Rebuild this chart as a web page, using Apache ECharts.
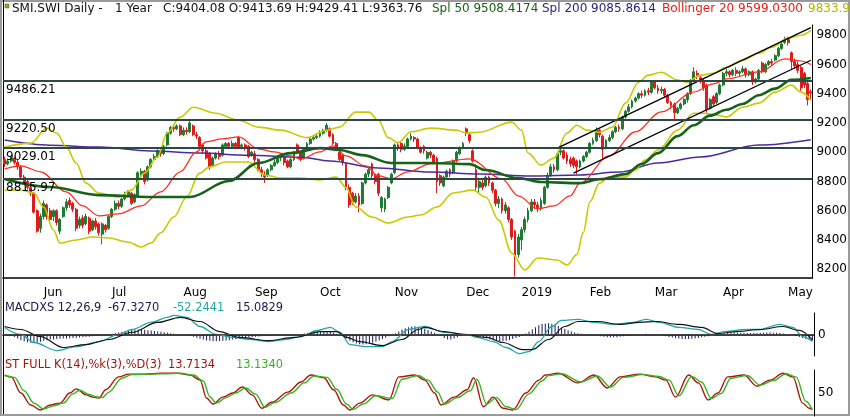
<!DOCTYPE html>
<html>
<head>
<meta charset="utf-8">
<script src="https://cdn.jsdelivr.net/npm/echarts@6/dist/echarts.min.js"></script>
<style>
html, body { margin: 0; padding: 0; background: #fff; }
#chart { width: 850px; height: 417px; }
</style>
</head>
<body>
<div id="chart"></div>
<script>
// exchange closed on these days
var holidays = ['2018-05-21', '2018-08-01', '2018-12-24', '2018-12-25', '2018-12-26', '2018-12-31',
  '2019-01-01', '2019-01-02', '2019-04-19', '2019-04-22', '2019-05-01'];
var monthNames = ['Jan', 'Feb', 'Mar', 'Apr', 'May', 'Jun', 'Jul', 'Aug', 'Sep', 'Oct', 'Nov', 'Dec'];
var levels = [9486.21, 9220.50, 9029.01, 8815.97];

// [open, close, low, high]
var candlesMay18 = [
  [8950,8920,8900,8970],[8920,8940,8910,8955],[8940,8960,8930,8975],[8960,8930,8915,8970],
  [8930,8900,8880,8950],[8900,8830,8820,8910],[8830,8800,8785,8845],[8800,8760,8745,8815],
  [8760,8720,8700,8775],[8720,8590,8580,8730],[8600,8460,8450,8610],[8480,8560,8450,8580]
];
var candlesJun18 = [
  [8560,8650,8540,8670],[8640,8560,8540,8650],[8600,8540,8520,8620],[8560,8600,8530,8610],
  [8600,8520,8500,8610],[8460,8540,8440,8550],[8560,8620,8550,8630],[8620,8660,8600,8680],
  [8670,8640,8620,8690],[8650,8610,8590,8660],[8610,8480,8460,8620],[8500,8540,8480,8560],
  [8550,8500,8480,8570],[8510,8560,8500,8580],[8550,8460,8440,8560],[8470,8530,8460,8540],
  [8530,8490,8470,8550],[8510,8450,8430,8520],[8440,8510,8370,8520],[8500,8470,8450,8510],
  [8480,8560,8470,8570]
];
var candlesJul18 = [
  [8560,8610,8550,8620],[8610,8650,8600,8670],[8650,8630,8610,8670],[8630,8680,8620,8690],
  [8680,8710,8670,8730],[8710,8730,8690,8740],[8720,8650,8640,8730],[8660,8710,8650,8720],
  [8700,8860,8690,8870],[8850,8870,8840,8890],[8870,8800,8780,8880],[8810,8900,8800,8910],
  [8900,8950,8890,8960],[8950,8970,8940,8990],[8970,9010,8960,9020],[9010,8990,8970,9030],
  [8990,9040,8980,9050],[9050,9130,9040,9140],[9130,9170,9120,9180],[9170,9160,9140,9190],
  [9160,9180,9150,9190],[9180,9120,9110,9190]
];
var candlesAug18 = [
  [9120,9150,9110,9170],[9150,9140,9120,9170],[9140,9200,9130,9220],[9180,9120,9110,9190],
  [9120,9110,9090,9140],[9100,9040,9030,9110],[9050,9010,8990,9060],[9010,8960,8950,9030],
  [8990,8900,8880,9000],[8910,8960,8900,8970],[8960,8990,8950,9000],[8990,8970,8950,9010],
  [8980,9050,8970,9060],[9040,9060,9030,9070],[9060,9040,9020,9070],[9040,9060,9030,9080],
  [9060,9040,9020,9070],[9100,9030,9020,9110],[9040,9050,9020,9060],[9050,9030,9010,9060],
  [9040,8970,8960,9050],[8980,9000,8970,9010]
];
var candlesSep18 = [
  [8990,8950,8930,9010],[8950,8880,8870,8960],[8880,8860,8830,8900],[8850,8830,8790,8870],
  [8840,8880,8830,8890],[8880,8910,8870,8920],[8910,8930,8900,8950],[8930,8960,8920,8970],
  [8960,8970,8940,8980],[8970,8930,8910,8980],[8940,8900,8890,8950],[8900,8950,8890,8960],
  [8950,9000,8940,9010],[9050,9000,8990,9060],[9000,8950,8940,9010],[8960,9020,8950,9030],
  [9020,9060,9010,9070],[9060,9090,9050,9100],[9090,9100,9080,9110],[9100,9110,9090,9130]
];
var candlesOct18 = [
  [9110,9130,9100,9150],[9130,9150,9120,9160],[9150,9185,9140,9200],[9160,9110,9100,9170],
  [9120,9060,9050,9130],[9060,9030,9010,9070],[9000,8950,8940,9010],[8980,8930,8910,8990],
  [8920,8760,8740,8930],[8760,8640,8620,8780],[8720,8660,8640,8730],[8660,8700,8650,8720],
  [8700,8640,8590,8720],[8650,8790,8640,8800],[8790,8850,8780,8860],[8850,8880,8830,8900],
  [8920,8840,8820,8930],[8840,8800,8780,8850],[8850,8720,8700,8860],[8620,8690,8590,8700],
  [8610,8680,8590,8690],[8690,8760,8680,8770],[8790,8850,8780,8860]
];
var candlesNov18 = [
  [8860,9050,8850,9060],[9050,9030,9010,9070],[9060,9020,9000,9070],[9020,9040,9010,9060],
  [9040,9090,9030,9100],[9090,9110,9080,9130],[9100,9090,9070,9110],[9090,9030,9020,9100],
  [9030,9000,8990,9040],[9040,9010,8990,9050],[8960,9000,8950,9010],[9000,8980,8960,9010],
  [8980,8930,8920,8990],[8960,8800,8720,8970],[8840,8790,8770,8850],[8770,8830,8760,8840],
  [8830,8870,8820,8880],[8880,8850,8830,8890],[8860,8940,8850,8950],[8940,9000,8930,9010],
  [8990,9030,8980,9040],[9030,9060,9020,9070]
];
var candlesDec18 = [
  [9160,9130,9110,9170],[9120,9080,9060,9130],[9010,8940,8930,9020],[8880,8760,8740,8900],
  [8760,8800,8720,8820],[8790,8760,8740,8810],[8770,8830,8760,8840],[8830,8790,8770,8840],
  [8790,8740,8720,8800],[8740,8650,8630,8750],[8650,8680,8620,8700],[8680,8600,8580,8690],
  [8600,8640,8580,8660],[8620,8540,8520,8630],[8540,8420,8400,8550],[8460,8290,8150,8470],
  [8300,8420,8280,8440]
];
var candlesJan19 = [
  [8400,8470,8330,8490],[8470,8540,8450,8560],[8540,8600,8520,8620],[8600,8660,8590,8680],
  [8660,8640,8610,8680],[8640,8620,8590,8660],[8620,8670,8600,8690],[8650,8760,8640,8770],
  [8760,8840,8750,8860],[8840,8900,8830,8920],[8900,8880,8860,8920],[8880,8990,8870,9000],
  [9000,9010,8980,9030],[9010,8960,8950,9020],[8980,8940,8920,9000],[8950,8920,8900,8970],
  [8960,8910,8890,8970],[8940,8900,8850,8950],[8900,8940,8890,8950],[8940,8970,8930,8980],
  [8970,9000,8960,9010]
];
var candlesFeb19 = [
  [9000,9060,8990,9070],[9060,9080,9050,9100],[9080,9150,9070,9170],[9150,9120,9100,9160],
  [9110,9020,8950,9120],[9030,9080,9020,9090],[9080,9100,9070,9120],[9100,9140,9090,9150],
  [9140,9170,9130,9180],[9170,9160,9140,9190],[9160,9240,9150,9250],[9240,9280,9230,9290],
  [9280,9310,9270,9330],[9310,9350,9300,9360],[9350,9370,9340,9380],[9370,9400,9360,9410],
  [9400,9390,9370,9420],[9390,9420,9380,9430],[9420,9410,9390,9440],[9410,9480,9400,9490]
];
var candlesMar19 = [
  [9480,9440,9430,9490],[9440,9420,9400,9460],[9420,9430,9400,9450],[9430,9390,9370,9440],
  [9390,9340,9330,9400],[9340,9320,9300,9350],[9330,9270,9225,9340],[9270,9300,9260,9310],
  [9300,9330,9290,9340],[9330,9360,9320,9370],[9360,9400,9340,9410],[9400,9490,9390,9500],
  [9490,9550,9480,9580],[9540,9520,9500,9560],[9510,9490,9470,9520],[9490,9440,9420,9500],
  [9460,9290,9270,9470],[9300,9360,9290,9370],[9380,9330,9310,9390],[9340,9400,9330,9410],
  [9400,9460,9390,9470]
];
var candlesApr19 = [
  [9460,9540,9450,9550],[9540,9550,9520,9570],[9550,9530,9510,9560],[9530,9560,9520,9570],
  [9560,9540,9520,9580],[9540,9550,9520,9560],[9550,9570,9540,9590],[9570,9530,9510,9580],
  [9530,9550,9520,9560],[9550,9480,9460,9560],[9480,9500,9470,9510],[9500,9560,9490,9570],
  [9610,9550,9540,9620],[9550,9600,9540,9610],[9600,9620,9590,9630],[9620,9610,9590,9640],
  [9630,9660,9620,9670],[9660,9710,9650,9720],[9710,9740,9700,9760],[9750,9770,9740,9790]
];
var candlesMay19 = [
  [9770,9750,9730,9790],[9680,9620,9560,9690],[9620,9590,9570,9640],[9600,9560,9540,9620],
  [9580,9440,9420,9590],[9540,9460,9440,9550],[9470,9360,9320,9480],[9413.69,9404.08,9363.76,9429.41]
];

// indicator lines: [day index, value]
var bbUpper = [[0,9035],[8,9062],[13,9165],[16,9131],[19,9035],[22,8926],[25,8789],[29,8721],[35,8694],[39,8741],
  [43,8857],[47,8967],[50,9131],[54,9240],[58,9308],[65,9267],[72,9219],[78,9172],[85,9151],[93,9100],[99,9150],
  [103,9172],[108,9274],[112,9274],[115,9219],[118,9100],[121,9065],[125,9140],[131,9165],[139,9151],[142,9131],
  [146,9137],[156,9206],[159,9151],[161,8994],[165,8912],[169,8960],[173,9131],[176,9185],[179,9151],[183,9137],
  [187,9172],[191,9336],[195,9479],[198,9527],[202,9547],[207,9493],[210,9479],[214,9527],[218,9540],[222,9581],
  [227,9629],[232,9677],[236,9718],[241,9780],[245,9800],[248,9834]];
var bbLower = [[0,8741],[5,8741],[9,8721],[12,8625],[15,8468],[17,8379],[22,8400],[27,8420],[32,8414],[38,8386],
  [42,8352],[45,8379],[48,8448],[52,8557],[56,8694],[60,8857],[63,8898],[68,8933],[75,8933],[80,8844],[85,8823],
  [91,8823],[97,8810],[102,8830],[105,8760],[108,8625],[113,8557],[118,8516],[124,8557],[128,8571],[133,8625],
  [138,8721],[144,8741],[148,8694],[152,8536],[156,8311],[160,8195],[164,8277],[170,8263],[173,8229],[176,8300],
  [178,8450],[180,8660],[183,8789],[186,8830],[191,8830],[194,8878],[197,8946],[201,9015],[207,9151],[212,9267],
  [215,9267],[219,9254],[222,9240],[227,9308],[232,9336],[237,9411],[242,9459],[245,9411],[248,9356]];
var bbMid = [[0,8886],[5,8907],[11,8866],[19,8729],[24,8633],[29,8565],[35,8579],[42,8633],[48,8729],[54,8866],
  [59,9002],[62,9071],[67,9091],[72,9105],[78,9023],[83,9002],[88,8975],[91,8954],[97,9002],[101,9043],[105,8975],
  [111,8907],[115,8838],[119,8818],[124,8866],[131,8920],[143,8954],[153,8818],[158,8702],[164,8613],[169,8633],
  [174,8702],[177,8790],[186,8975],[194,9139],[202,9276],[212,9412],[218,9467],[222,9501],[232,9549],[240,9638],
  [245,9624],[248,9599]];
var spl50 = [[0,8817],[14,8762],[29,8707],[45,8694],[57,8694],[69,8803],[78,8926],[88,8994],[97,9028],[103,9015],
  [110,8980],[119,8926],[131,8926],[143,8919],[148,8878],[158,8823],[165,8796],[177,8789],[183,8815],[191,8850],
  [196,8920],[201,8994],[207,9110],[212,9185],[217,9250],[222,9290],[227,9330],[232,9390],[237,9435],[242,9495],
  [248,9508]];
var spl200 = [[0,9083],[14,9048],[29,9035],[45,9008],[60,8994],[75,8980],[91,8966],[100,8940],[115,8892],[131,8864],
  [146,8851],[162,8837],[177,8844],[189,8864],[201,8926],[214,8967],[232,9049],[248,9086]];
var channelTop = [[170,9028],[248,9852]];
var channelBottom = [[175,8857],[248,9629]];

var macdLine = [[0,69],[5,0],[9,-78],[16,-157],[22,-118],[29,-69],[35,0],[39,49],[45,118],[50,167],[52,186],[56,167],
  [60,78],[65,0],[70,-29],[76,-49],[81,-69],[86,-49],[91,-20],[96,39],[100,69],[103,20],[106,-98],[111,-118],
  [116,-118],[119,-69],[124,49],[129,78],[135,20],[142,0],[145,-29],[150,-69],[154,-127],[158,-186],[161,-167],
  [164,-69],[168,78],[171,137],[176,147],[181,118],[187,98],[193,118],[197,147],[201,118],[207,69],[213,49],[217,0],
  [221,29],[228,49],[232,49],[238,98],[242,69],[245,-20],[248,-67]];
var macdSignal = [[0,78],[5,49],[11,-20],[18,-127],[25,-98],[32,-49],[39,20],[47,118],[54,167],[60,127],[66,29],
  [72,-29],[81,-59],[89,-29],[97,29],[102,29],[105,-29],[109,-69],[116,-108],[122,-49],[127,49],[129,69],[135,29],
  [141,0],[148,-29],[153,-78],[159,-147],[162,-147],[167,-49],[172,78],[176,127],[182,127],[189,98],[195,118],
  [200,127],[207,98],[214,69],[219,10],[225,29],[232,49],[239,78],[244,40],[248,-52]];
var macdHist = [
  -5,-10,-15,
  -25,-40,-55,-65,-75,-80,-80,-75,-70,-60,
  -55,-50,-48,-45,-42,-40,-38,-36,-34,-32,-30,-28,-25,-22,-18,-14,-10,
  -6,-2,3,
  8,14,20,28,35,42,46,50,50,48,46,42,38,34,30,26,22,18,12,
  8,4,0,-4,-8,
  -14,-22,-32,-42,-50,-58,-62,-65,-65,-63,-60,-58,-55,-50,-46,-42,-38,-34,-30,-26,-22,-20,-16,-14,-12,-10,
  -8,-6,-4,-3,-2,0,2,4,6,
  10,14,18,22,26,30,30,28,24,18,
  8,-5,-20,-40,-60,-75,-88,-95,-98,-95,-88,-80,-70,-58,-45,-32,
  -18,-4,12,30,48,62,72,78,80,76,68,58,
  44,30,16,
  2,-15,-35,-48,-50,-40,
  -26,-14,-6,0,4,-2,
  -10,-20,-30,-40,-48,-55,-60,-64,-65,-62,-55,-45,-35,-25,
  -10,10,30,52,72,90,102,108,110,105,95,82,68,55,42,30,20,
  12,8,5,2,0,-4,
  -10,-16,-22,-26,-28,-28,-26,-22,-18,-14,-10,-6,-2,
  2,6,8,6,4,0,
  -6,-12,-18,-24,-30,-36,-40,-44,-45,-44,-42,-38,-34,-28,-22,-16,-10,-4,
  2,6,10,14,16,18,18,18,16,15,14,14,15,16,18,20,20,18,16,14,10,6,2,
  -6,-14,-24,-34,-44,-52,-58
];

var stochK = [[0,89],[2,85],[5,50],[8,24],[11,13],[14,24],[17,28],[20,50],[22,59],[25,46],[27,41],[29,39],[31,57],
  [35,85],[38,91],[43,91],[48,93],[53,93],[57,89],[60,78],[62,39],[64,26],[67,41],[70,50],[73,63],[76,46],[79,17],
  [82,30],[87,52],[91,74],[94,89],[98,83],[101,57],[104,24],[106,13],[109,28],[113,46],[118,35],[121,85],[126,89],
  [129,78],[132,50],[134,24],[138,41],[142,57],[144,83],[147,20],[150,41],[153,17],[156,13],[160,50],[164,78],
  [166,89],[170,93],[176,72],[181,89],[185,61],[189,85],[195,91],[200,85],[203,78],[206,41],[210,89],[213,72],
  [216,35],[219,50],[222,85],[227,89],[231,65],[235,78],[239,93],[242,85],[245,28],[247,17],[248,14]];
var stochD = [[0,88],[3,84],[6,55],[9,28],[12,15],[15,22],[18,28],[21,48],[23,56],[26,47],[28,42],[30,40],[32,52],
  [36,82],[39,90],[44,91],[49,92],[54,93],[58,89],[61,76],[63,42],[65,28],[68,40],[71,50],[74,61],[77,48],[80,19],
  [83,29],[88,50],[92,72],[95,87],[99,84],[102,58],[105,26],[107,14],[110,26],[114,44],[119,38],[122,80],[127,88],
  [130,78],[133,52],[135,26],[139,40],[143,55],[145,80],[148,26],[151,40],[154,20],[157,14],[161,48],[165,76],
  [167,88],[171,92],[177,74],[182,87],[186,63],[190,84],[196,90],[201,86],[204,78],[207,44],[211,86],[214,74],
  [217,38],[220,49],[223,82],[228,88],[232,67],[236,77],[240,92],[243,85],[246,32],[248,13]];

function buildDates(start, end) {
  var out = [];
  var d = new Date(start + 'T00:00:00Z');
  var stop = new Date(end + 'T00:00:00Z');
  while (d <= stop) {
    var wd = d.getUTCDay();
    var s = d.toISOString().slice(0, 10);
    if (wd !== 0 && wd !== 6 && holidays.indexOf(s) < 0) out.push(s);
    d.setUTCDate(d.getUTCDate() + 1);
  }
  return out;
}

function createChart() {
  var dates = buildDates('2018-05-15', '2019-05-13');
  var candles = [].concat(candlesMay18, candlesJun18, candlesJul18, candlesAug18, candlesSep18, candlesOct18,
    candlesNov18, candlesDec18, candlesJan19, candlesFeb19, candlesMar19, candlesApr19, candlesMay19);

  var monthStart = function (i) {
    return i > 0 && dates[i].slice(5, 7) !== dates[i - 1].slice(5, 7);
  };
  var font = 'DejaVu Sans';
  var lineOf = function (data, color, width, xi, yi) {
    return {
      type: 'line', data: data, xAxisIndex: xi || 0, yAxisIndex: yi || 0,
      smooth: 0.35, smoothMonotone: 'x', showSymbol: false, silent: true,
      lineStyle: { color: color, width: width }
    };
  };
  var txt = function (s, x, y, color, size) {
    return { type: 'text', x: x, y: y, style: { text: s, fill: color, font: (size || 12) + 'px "DejaVu Sans"', verticalAlign: 'middle' } };
  };

  var dom = document.getElementById('chart');
  var myChart = echarts.init(dom);
  var option = {
    animation: false,
    backgroundColor: '#fff',
    textStyle: { fontFamily: font },
    grid: [
      { left: 3, right: 36, top: 25, height: 253 },
      { left: 3, right: 36, top: 313, height: 43 },
      { left: 3, right: 36, top: 370, height: 46 }
    ],
    xAxis: [
      {
        type: 'category', data: dates, gridIndex: 0, boundaryGap: true,
        axisLine: { lineStyle: { color: '#000', width: 1.5 } },
        axisTick: { interval: monthStart, length: 6, lineStyle: { color: '#000' } },
        axisLabel: {
          interval: monthStart, align: 'left', margin: 9, color: '#000', fontSize: 12, fontFamily: font,
          formatter: function (v) {
            var m = +v.slice(5, 7);
            return m === 1 ? v.slice(0, 4) : monthNames[m - 1];
          }
        },
        splitLine: { show: false }
      },
      {
        type: 'category', data: dates, gridIndex: 1, boundaryGap: true,
        axisLine: { lineStyle: { color: '#000', width: 1.5 } },
        axisTick: { show: false }, axisLabel: { show: false }
      },
      {
        type: 'category', data: dates, gridIndex: 2, boundaryGap: true,
        axisLine: { show: false }, axisTick: { show: false }, axisLabel: { show: false }
      }
    ],
    yAxis: [
      {
        type: 'value', gridIndex: 0, position: 'right', min: 8140, max: 9870, splitNumber: 9,
        axisLine: { show: true, lineStyle: { color: '#000' } }, axisTick: { show: false },
        splitLine: { show: false },
        axisLabel: {
          margin: 4, color: '#000', fontSize: 12, fontFamily: font,
          formatter: function (v) { return v % 200 === 0 ? String(v) : ''; }
        }
      },
      {
        type: 'value', gridIndex: 1, position: 'right', min: -210, max: 210, splitNumber: 2,
        axisLine: { show: true, lineStyle: { color: '#000' } }, axisTick: { show: false },
        splitLine: { show: false },
        axisLabel: {
          margin: 4, color: '#000', fontSize: 12, fontFamily: font,
          formatter: function (v) { return v === 0 ? '0' : ''; }
        }
      },
      {
        type: 'value', gridIndex: 2, position: 'right', min: 0, max: 100, splitNumber: 2,
        axisLine: { show: true, lineStyle: { color: '#000' } }, axisTick: { show: false },
        splitLine: { show: false },
        axisLabel: {
          margin: 4, color: '#000', fontSize: 12, fontFamily: font,
          formatter: function (v) { return v === 50 ? '50' : ''; }
        }
      }
    ],
    series: [
      {
        type: 'candlestick', data: candles, barWidth: 2.4, silent: true,
        itemStyle: { color: '#1f7a34', color0: '#e01b1b', borderColor: '#1f7a34', borderColor0: '#e01b1b', borderWidth: 1 },
        markLine: {
          silent: true, symbol: 'none',
          lineStyle: { color: '#2f4646', width: 2, type: 'solid' },
          label: {
            position: 'insideStartBottom', distance: 3, color: '#000', fontSize: 12, fontFamily: font,
            formatter: function (p) { return p.value.toFixed(2); }
          },
          data: levels.map(function (v) { return { yAxis: v }; })
        }
      },
      lineOf(spl200, '#4a2a9c', 1.5),
      lineOf(bbUpper, '#c9c900', 1.6),
      lineOf(bbLower, '#c9c900', 1.6),
      lineOf(bbMid, '#ff2a1a', 1.2),
      lineOf(spl50, '#176317', 2.6),
      lineOf(channelTop, '#000', 1.3),
      lineOf(channelBottom, '#000', 1.3),
      {
        type: 'bar', data: macdHist, xAxisIndex: 1, yAxisIndex: 1, barWidth: 1, silent: true,
        itemStyle: { color: '#1b1a60' },
        markLine: {
          silent: true, symbol: 'none', label: { show: false },
          lineStyle: { color: '#444', width: 1, type: 'solid' },
          data: [{ yAxis: 0 }]
        }
      },
      lineOf(macdLine, '#1fa7a7', 1.3, 1, 1),
      lineOf(macdSignal, '#111', 1.2, 1, 1),
      lineOf(stochK, '#b0140f', 1.4, 2, 2),
      lineOf(stochD, '#33b51f', 1.4, 2, 2)
    ],
    graphic: [
      { type: 'rect', shape: { x: 1, y: 1, width: 848, height: 414 }, style: { fill: 'none', stroke: '#9a9a9a', lineWidth: 2 } },
      { type: 'line', shape: { x1: 3.5, y1: 0, x2: 3.5, y2: 414 }, style: { stroke: '#000', lineWidth: 1 } },
      { type: 'rect', shape: { x: 5, y: 4, width: 4, height: 4 }, style: { fill: '#a0a020', stroke: '#555', lineWidth: 0.5 } },
      txt('SMI.SWI Daily -', 12, 9, '#111'),
      txt('1 Year', 115, 9, '#111'),
      txt('C:9404.08 O:9413.69 H:9429.41 L:9363.76', 163, 9, '#111'),
      txt('Spl 50 9508.4174', 432, 9, '#176317'),
      txt('Spl 200 9085.8614', 542, 9, '#2c1f78'),
      txt('Bollinger 20 9599.0300', 662, 9, '#e8201a'),
      txt('9833.9100', 808, 9, '#b5b500'),
      txt('MACDXS 12,26,9', 5, 308, '#1b1a50', 11.4),
      txt('-67.3270', 108, 308, '#1b1a50', 11.4),
      txt('-52.2441', 173, 308, '#1fa7a7', 11.4),
      txt('15.0829', 236, 308, '#1b1a50', 11.4),
      txt('ST FULL K(14),%k(3),%D(3)', 5, 365, '#a0140f', 11.4),
      txt('13.7134', 168, 365, '#a0140f', 11.4),
      txt('13.1340', 236, 365, '#33b51f', 11.4)
    ]
  };

  if (option && typeof option === 'object') {
    myChart.setOption(option);
  }
}
createChart();
</script>
</body>
</html>
